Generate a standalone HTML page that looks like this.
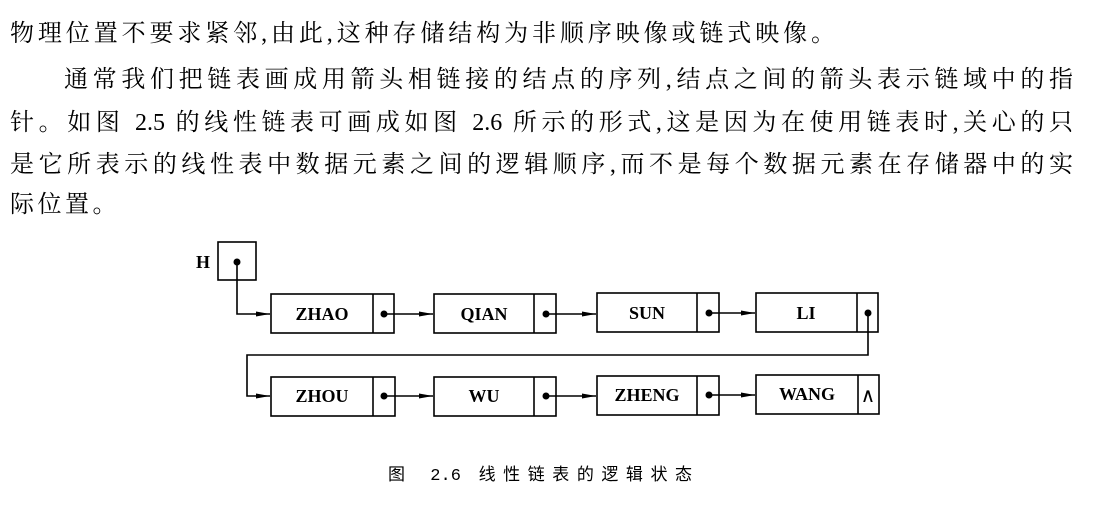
<!DOCTYPE html>
<html><head><meta charset="utf-8"><style>
body{margin:0;width:1104px;height:506px;background:#fff;overflow:hidden;position:relative;font-family:"Liberation Serif","Noto Serif CJK SC","Noto Sans CJK SC",serif;color:#000}
.l{position:absolute;font-size:24px;line-height:30px;white-space:nowrap;height:30px}
.j{text-align:justify;text-align-last:justify;white-space:normal;overflow:hidden}
.cap{position:absolute;left:388px;top:465px;width:304px;font-size:17px;line-height:24px;text-align:justify;text-align-last:justify;font-family:"Liberation Mono","Noto Sans CJK SC",monospace}
</style></head><body>
<div class="l" style="left:10px;top:19px;letter-spacing:3.9px">物理位置不要求紧邻,由此,这种存储结构为非顺序映像或链式映像。</div>
<div class="l j" style="left:64px;top:65px;width:1009px">通常我们把链表画成用箭头相链接的结点的序列,结点之间的箭头表示链域中的指</div>
<div class="l j" style="left:10px;top:108px;width:1063px">针。如图 2.5 的线性链表可画成如图 2.6 所示的形式,这是因为在使用链表时,关心的只</div>
<div class="l j" style="left:10px;top:150px;width:1063px">是它所表示的线性表中数据元素之间的逻辑顺序,而不是每个数据元素在存储器中的实</div>
<div class="l" style="left:10px;top:190px;letter-spacing:3.5px">际位置。</div>
<svg width="1104" height="506" style="position:absolute;left:0;top:0" xmlns="http://www.w3.org/2000/svg">
<defs><marker id="a" markerWidth="14" markerHeight="8" refX="14" refY="4" orient="auto" markerUnits="userSpaceOnUse"><path d="M0,1.5 L14,4 L0,6.5 z" fill="#000"/></marker></defs>
<g fill="none" stroke="#000" stroke-width="1.6">
<rect x="218" y="242" width="38" height="38"/>
<polyline points="237,262 237,314 270,314" marker-end="url(#a)"/>
<rect x="271" y="294" width="123" height="39"/><line x1="373" y1="294" x2="373" y2="333"/>
<rect x="434" y="294" width="122" height="39"/><line x1="534" y1="294" x2="534" y2="333"/>
<rect x="597" y="293" width="122" height="39"/><line x1="697" y1="293" x2="697" y2="332"/>
<rect x="756" y="293" width="122" height="39"/><line x1="857" y1="293" x2="857" y2="332"/>
<line x1="384" y1="314" x2="433" y2="314" marker-end="url(#a)"/>
<line x1="546" y1="314" x2="596" y2="314" marker-end="url(#a)"/>
<line x1="709" y1="313" x2="755" y2="313" marker-end="url(#a)"/>
<polyline points="868,313 868,355 247,355 247,396 270,396" marker-end="url(#a)"/>
<rect x="271" y="377" width="124" height="39"/><line x1="373" y1="377" x2="373" y2="416"/>
<rect x="434" y="377" width="122" height="39"/><line x1="534" y1="377" x2="534" y2="416"/>
<rect x="597" y="376" width="122" height="39"/><line x1="697" y1="376" x2="697" y2="415"/>
<rect x="756" y="375" width="123" height="39"/><line x1="858" y1="375" x2="858" y2="414"/>
<line x1="384" y1="396" x2="433" y2="396" marker-end="url(#a)"/>
<line x1="546" y1="396" x2="596" y2="396" marker-end="url(#a)"/>
<line x1="709" y1="395" x2="755" y2="395" marker-end="url(#a)"/>
</g>
<g fill="#000">
<circle cx="237" cy="262" r="3.5"/>
<circle cx="384" cy="314" r="3.5"/><circle cx="546" cy="314" r="3.5"/><circle cx="709" cy="313" r="3.5"/><circle cx="868" cy="313" r="3.5"/>
<circle cx="384" cy="396" r="3.5"/><circle cx="546" cy="396" r="3.5"/><circle cx="709" cy="395" r="3.5"/>
</g>
<g font-family="Liberation Serif,serif" font-size="18" font-weight="bold" text-anchor="middle">
<text x="203" y="268">H</text>
<text x="322" y="320">ZHAO</text><text x="484" y="320">QIAN</text><text x="647" y="319">SUN</text><text x="806" y="319">LI</text>
<text x="322" y="402">ZHOU</text><text x="484" y="402">WU</text><text x="647" y="401">ZHENG</text><text x="807" y="400">WANG</text>
<text x="868" y="402" font-weight="normal" font-size="20">∧</text>
</g>
</svg>
<div class="cap">图 2.6 线性链表的逻辑状态</div>
</body></html>
